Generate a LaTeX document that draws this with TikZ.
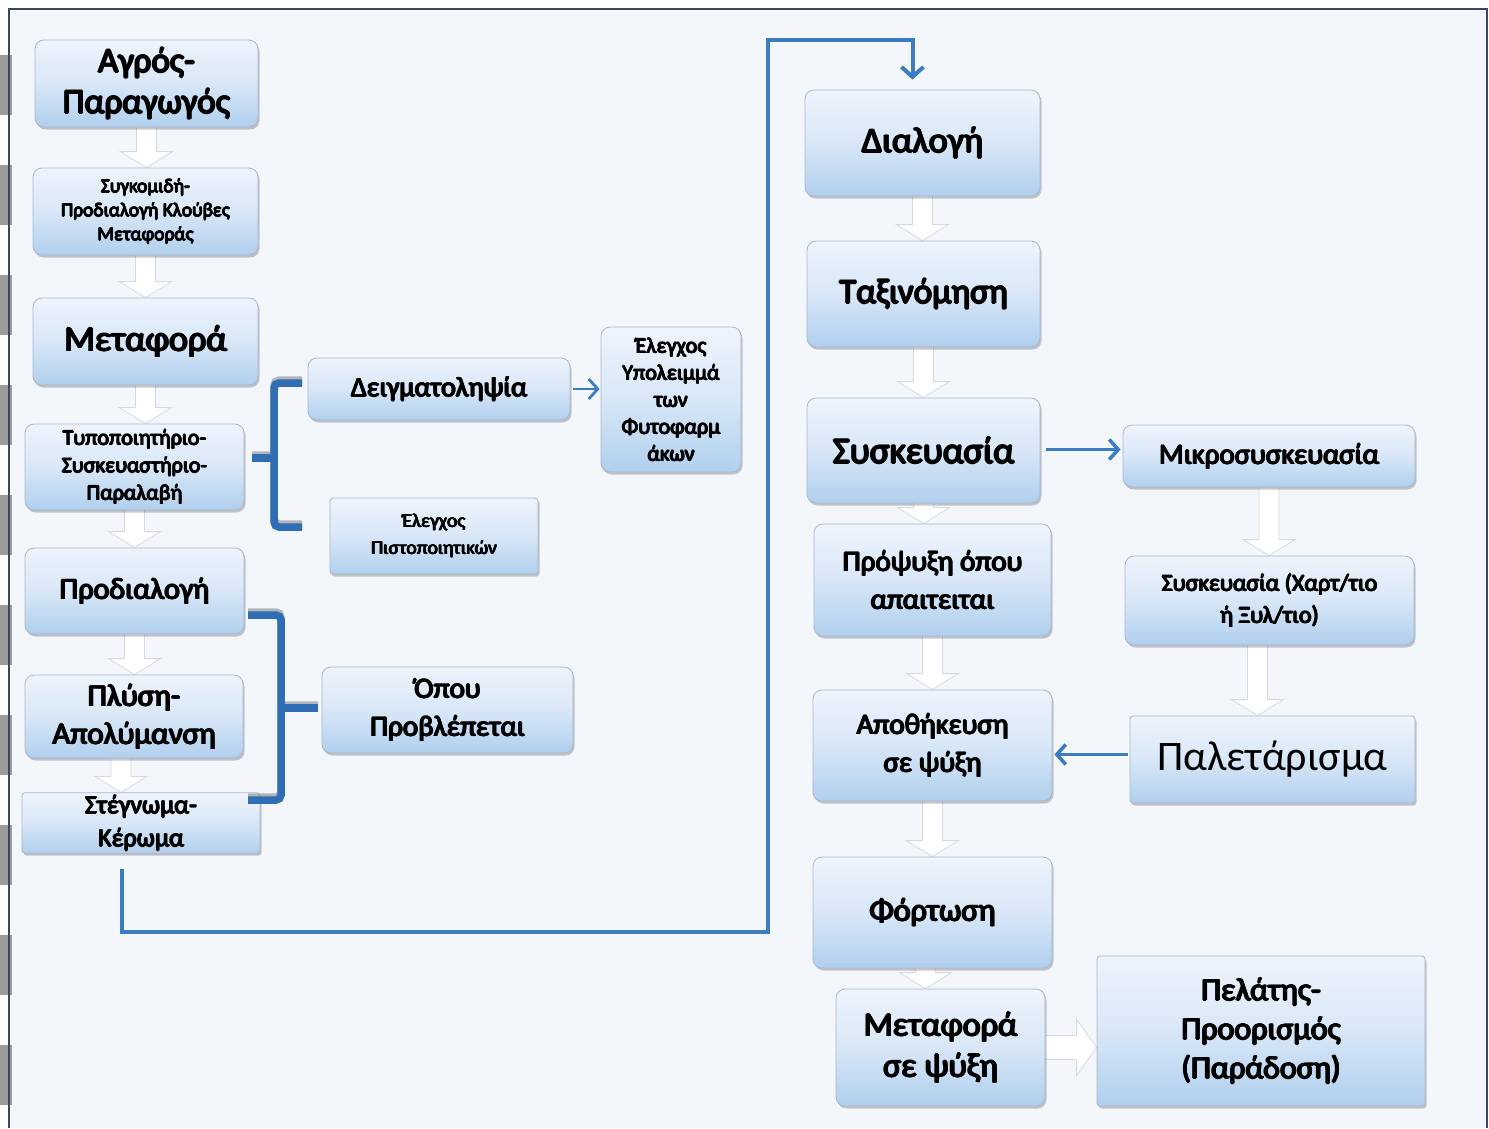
\documentclass[tikz,border=0pt]{standalone}
\usepackage{fontspec}
\setmainfont{Carlito}
\usetikzlibrary{shadows,calc,arrows.meta}
\definecolor{pagebg}{HTML}{F3F7FC}
\definecolor{boxtop}{HTML}{EEF4FC}
\definecolor{boxmid}{HTML}{D8E7F7}
\definecolor{boxbot}{HTML}{B0CFEE}
\definecolor{boxedge}{HTML}{A8B6CC}
\definecolor{flowblue}{HTML}{3C7DC2}
\definecolor{bracecol}{HTML}{2F6EB5}
\definecolor{chevedge}{HTML}{D3DAE4}
\definecolor{framecol}{HTML}{3B4660}
\definecolor{tabgrey}{HTML}{9C9C9C}
\pgfdeclarelayer{bg}
\pgfdeclarelayer{chevl}
\pgfsetlayers{bg,chevl,main}
% heavier text by over-printing a few slightly shifted copies
\newcommand\bl[1]{\leavevmode\rlap{#1}\rlap{\kern.025em#1}\rlap{\kern.05em#1}%
  \rlap{\kern.025em\raisebox{.022em}{#1}}\rlap{\kern.025em\raisebox{-.012em}{#1}}%
  \kern.05em#1}
\newcommand\vchev[3][0]{%
  \begin{pgfonlayer}{chevl}
  \path[chev] let \p1=([xshift=#1pt]#2.south), \p2=(#3.north) in
    (\x1-10pt,\y1+4pt) -- (\x1-10pt,\y2+16pt) -- (\x1-26pt,\y2+16pt) -- (\x1,\y2)
    -- (\x1+26pt,\y2+16pt) -- (\x1+10pt,\y2+16pt) -- (\x1+10pt,\y1+4pt) -- cycle;
  \end{pgfonlayer}}
\newcommand\hchev[2]{%
  \begin{pgfonlayer}{chevl}
  \path[chev] let \p1=(#1.east), \p2=(#2.west) in
    (\x1-4pt,\y1+12pt) -- (\x2-20pt,\y1+12pt) -- (\x2-20pt,\y1+28pt) -- (\x2,\y1)
    -- (\x2-20pt,\y1-28pt) -- (\x2-20pt,\y1-12pt) -- (\x1-4pt,\y1-12pt) -- cycle;
  \end{pgfonlayer}}
\begin{document}
\begin{tikzpicture}[x=1pt,y=-1pt,
  box/.style={rounded corners=9pt, draw=boxedge, line width=0.8pt,
    top color=boxtop, bottom color=boxbot, middle color=boxmid,
    align=center, inner sep=2pt, text=black,
    drop shadow={shadow xshift=1.5pt,shadow yshift=-2.5pt,opacity=0.3,fill=black!70}},
  sq/.style={rounded corners=3pt},
  fsz/.style 2 args={font=\fontsize{#1}{#2}\selectfont},
  chev/.style={fill=white, draw=chevedge, line width=0.8pt},
  arr/.style={draw=flowblue, line width=3.5pt, -{Straight Barb[length=9pt,width=20pt]}},
  flow/.style={draw=flowblue, line width=4pt, -{Straight Barb[length=10pt,width=22pt]}},
  brace/.style={draw=bracecol, line width=7.5pt, rounded corners=5pt},
  braceshadow/.style={draw=black!55, line width=7.5pt, opacity=0.5, rounded corners=5pt}]
\useasboundingbox (0,0) rectangle (1489,1128);
\begin{pgfonlayer}{bg}
  \fill[white] (0,0) rectangle (1489,1128);
  \fill[pagebg] (9,9) rectangle (1487,1128);
  \foreach \k in {0,...,9}{
    \fill[tabgrey] (0,55+110*\k) rectangle (12,115+110*\k);}
  \draw[framecol, line width=1.5pt] (9,1128) -- (9,9) -- (1487,9) -- (1487,1128);
\end{pgfonlayer}

% left column
\node[box, minimum width=223pt, minimum height=87pt, fsz={35}{41}] (agros) at (146.5,83.5) {\bl{Αγρός-}\\\bl{Παραγωγός}};
\node[box, minimum width=225pt, minimum height=87pt, fsz={19.5}{24}] (sygk) at (145.5,211.5) {\bl{Συγκομιδή-}\\\bl{Προδιαλογή Κλούβες}\\\bl{Μεταφοράς}};
\node[box, minimum width=225pt, minimum height=87pt, fsz={36}{41}] (metafora) at (145.5,341.5) {\bl{Μεταφορά}};
\node[box, minimum width=219pt, minimum height=86pt, fsz={22}{27.5}] (typop) at (134.5,467) {\bl{Τυποποιητήριο-}\\\bl{Συσκευαστήριο-}\\\bl{Παραλαβή}};
\node[box, minimum width=219pt, minimum height=86pt, fsz={30}{36}] (prodial) at (134.5,591) {\bl{Προδιαλογή}};
\node[box, minimum width=218pt, minimum height=83pt, fsz={31}{38}] (plysi) at (134,716.5) {\bl{Πλύση-}\\\bl{Απολύμανση}};
\node[box, sq, minimum width=238pt, minimum height=60pt, fsz={26}{33}] (stegn) at (141,823) {\bl{Στέγνωμα-}\\\bl{Κέρωμα}};

% middle column
\node[box, minimum width=262pt, minimum height=62pt, fsz={28}{34}] (deigm) at (439,389) {\bl{Δειγματοληψία}};
\node[box, minimum width=140pt, minimum height=145pt, fsz={22}{27}] (elegxos) at (671,399.5) {\bl{Έλεγχος}\\\bl{Υπολειμμά}\\\bl{των}\\\bl{Φυτοφαρμ}\\\bl{άκων}};
\node[box, sq, minimum width=208pt, minimum height=76pt, fsz={19.5}{27}] (pistop) at (434,536) {\bl{Έλεγχος}\\\bl{Πιστοποιητικών}};
\node[box, minimum width=251pt, minimum height=86pt, fsz={29}{38}] (opou) at (447.5,710) {\bl{Όπου}\\\bl{Προβλέπεται}};

% right column
\node[box, minimum width=235pt, minimum height=106pt, fsz={36}{42}] (dialogi) at (922.5,143) {\bl{Διαλογή}};
\node[box, minimum width=233pt, minimum height=106pt, fsz={35}{42}] (taxin) at (923.5,294) {\bl{Ταξινόμηση}};
\node[box, minimum width=233pt, minimum height=105pt, fsz={37}{42}] (syskeu) at (923.5,450.5) {\bl{Συσκευασία}};
\node[box, minimum width=237pt, minimum height=112pt, fsz={29}{38}] (propsyxi) at (932.5,580) {\bl{Πρόψυξη όπου}\\\bl{απαιτειται}};
\node[box, minimum width=239pt, minimum height=111pt, fsz={29}{38}] (apoth) at (932.5,745.5) {\bl{Αποθήκευση}\\\bl{σε ψύξη}};
\node[box, minimum width=239pt, minimum height=111pt, fsz={32}{40}] (fortosi) at (932.5,912.5) {\bl{Φόρτωση}};
\node[box, minimum width=209pt, minimum height=117pt, fsz={34}{41}] (metpsyx) at (940.5,1047.5) {\bl{Μεταφορά}\\\bl{σε ψύξη}};

% far right
\node[box, minimum width=292pt, minimum height=62pt, fsz={29}{36}] (mikro) at (1269,456) {\bl{Μικροσυσκευασία}};
\node[box, minimum width=289pt, minimum height=89pt, fsz={24}{32}] (xart) at (1269.5,600.5) {\bl{Συσκευασία (Χαρτ/τιο}\\\bl{ή Ξυλ/τιο)}};
\node[box, sq, minimum width=285pt, minimum height=87pt, fsz={42}{48}] (palet) at (1272.5,759.5) {Παλετάρισμα};
\node[box, sq, minimum width=328pt, minimum height=150pt, fsz={32}{39}] (pelatis) at (1261,1031) {\bl{Πελάτης-}\\\bl{Προορισμός}\\\bl{(Παράδοση)}};

% white block arrows
\vchev{agros}{sygk}
\vchev{sygk}{metafora}
\vchev{metafora}{typop}
\vchev{typop}{prodial}
\vchev{prodial}{plysi}
\vchev[-13]{plysi}{stegn}
\vchev{dialogi}{taxin}
\vchev{taxin}{syskeu}
\vchev{syskeu}{propsyxi}
\vchev{propsyxi}{apoth}
\vchev{apoth}{fortosi}
\vchev[-7]{fortosi}{metpsyx}
\vchev{mikro}{xart}
\vchev[-12]{xart}{palet}
\hchev{metpsyx}{pelatis}

% blue arrows
\draw[arr, line width=2.8pt, shorten <=3pt, shorten >=1pt] (deigm.east) -- (deigm.east -| elegxos.west);
\draw[arr, shorten <=6pt, shorten >=2pt] ([yshift=1pt]syskeu.east) -- ([yshift=1pt]syskeu.east -| mikro.west);
\draw[arr, shorten <=2pt, shorten >=2pt] ([yshift=5pt]palet.west) -- ([yshift=5pt]palet.west -| apoth.east);

% big connector
\coordinate (c1) at (768,932);
\draw[flow, line join=miter] ([xshift=-19pt,yshift=-15pt]stegn.south) |- (c1)
  |- ([xshift=-10pt,yshift=50pt]dialogi.north) -- ([xshift=-10pt,yshift=10pt]dialogi.north);

% braces
\draw[braceshadow, shift={(0,-3)}] (302,383) -- (274,383) -- (274,527) -- (302,527) (274,458) -- (252,458);
\draw[brace] (302,383) -- (274,383) -- (274,527) -- (302,527);
\draw[brace] (274,458) -- (252,458);
\draw[braceshadow, shift={(0,-3)}] (248,615) -- (281,615) -- (281,800) -- (248,800) (281,708) -- (318,708);
\draw[brace] (248,615) -- (281,615) -- (281,800) -- (248,800);
\draw[brace] (281,708) -- (318,708);
\end{tikzpicture}
\end{document}
